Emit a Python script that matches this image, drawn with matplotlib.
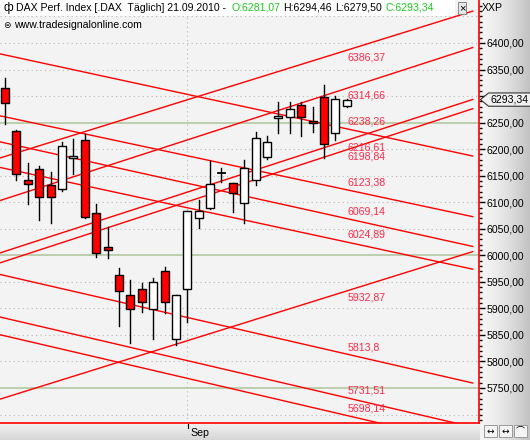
import matplotlib.pyplot as plt
import numpy as np
from matplotlib.patches import Rectangle, Polygon
from matplotlib.ticker import FixedLocator, FuncFormatter

plt.rcParams['font.family'] = ['Liberation Sans', 'DejaVu Sans']

# DAX daily candles, 31 bars up to 21.09.2010 (bar 16 = 1st of Sep)
opens = [6315.2, 6234.2, 6141.9, 6162.6, 6132.5, 6124.9, 6183.3, 6217.3, 6079.7, 6015.7,
         5962.9, 5925.2, 5936.5, 5898.9, 5970.4, 5842.3, 5936.5, 6070.3, 6089.1, 6155.1,
         6136.2, 6098.6, 6141.9, 6185.2, 6258.7, 6260.6, 6283.2, 6253.0, 6298.3, 6230.4, 6281.07]
highs = [6334.1, 6236.1, 6173.9, 6168.3, 6157.0, 6213.5, 6219.1, 6228.6, 6096.7, 6053.3,
         5976.1, 5953.5, 5947.8, 5957.3, 5978.0, 5925.2, 6083.5, 6104.2, 6177.7, 6164.5,
         6136.2, 6179.6, 6232.3, 6224.8, 6288.8, 6288.8, 6288.8, 6279.4, 6320.9, 6300.1, 6294.46]
lows = [6247.4, 6141.9, 6096.7, 6066.5, 6060.9, 6121.2, 6153.2, 6070.3, 5996.8, 5994.9,
        5866.8, 5834.8, 5893.2, 5842.3, 5891.3, 5831.0, 5874.4, 6051.5, 6087.3, 6138.1,
        6081.6, 6060.9, 6132.5, 6181.5, 6230.4, 6230.4, 6224.8, 6232.3, 6183.3, 6217.3, 6279.50]
closes = [6287.0, 6153.2, 6134.4, 6109.9, 6109.9, 6205.9, 6187.1, 6072.2, 6004.4, 6010.0,
          5932.8, 5898.9, 5912.0, 5949.7, 5912.0, 5925.2, 6083.5, 6083.5, 6134.4, 6155.1,
          6117.4, 6164.5, 6221.0, 6213.5, 6262.5, 6275.7, 6260.6, 6249.3, 6209.7, 6294.5, 6293.34]

# trend lines: value at the last bar (label) and slope in points per bar
line_values = [6386.37, 6314.66, 6238.26, 6216.61, 6198.84, 6123.38,
               6069.14, 6024.89, 5932.87, 5813.8, 5731.51, 5698.14]
line_labels = ['6386,37', '6314,66', '6238,26', '6216,61', '6198,84', '6123,38',
               '6069,14', '6024,89', '5932,87', '5813,8', '5731,51', '5698,14']
line_slopes = [6.67, 6.95, -4.64, 6.97, 7.0, -4.58,
               -4.75, -4.62, 6.7, -4.93, -5.0, -5.0]

month_label = 'Sep'
month_bar = 16
round_levels = [5750, 6000, 6250]

W, H = 530, 440
fig = plt.figure(figsize=(W / 100, H / 100), dpi=100)
fig.patch.set_facecolor('#ececec')

# background strips (right price scale and bottom date scale)
bg = fig.add_axes([0, 0, 1, 1])
bg.set_xlim(0, W)
bg.set_ylim(H, 0)
bg.axis('off')
t = np.linspace(0, 1, 50)
c0, c1 = np.array([0.96, 0.96, 0.96]), np.array([0.76, 0.76, 0.76])
grad_h = (c0[None, :] * (1 - t[:, None] ** 1.5) + c1[None, :] * t[:, None] ** 1.5)[None, :, :]
bg.imshow(grad_h, extent=[480, 530, 440, 0], aspect='auto')
t = np.linspace(0, 1, 20)
c0, c1 = np.array([0.95, 0.95, 0.95]), np.array([0.84, 0.84, 0.84])
grad_v = (c0[None, :] * (1 - t[:, None]) + c1[None, :] * t[:, None])[:, None, :]
bg.imshow(grad_v, extent=[0, 480, 440, 423], aspect='auto')

ax = fig.add_axes([0, 17 / H, 479 / W, 423 / H])
ax.set_facecolor('#f3f3f3')
n = len(opens)
x = np.arange(n)
ax.set_xlim(-0.44, 41.6)
ax.set_ylim(5684, 6481)

# grid
for lv in np.arange(5700, 6500, 50):
    if lv in round_levels:
        ax.axhline(lv, color='#b4c8a2', lw=1.2, zorder=1)
    else:
        ax.axhline(lv, color='#b8b8b8', lw=0.8, ls=(0, (1, 3)), zorder=1)
ax.axvline(month_bar, color='#b8b8b8', lw=0.8, ls=(0, (1, 3)), zorder=1)

# trend lines
xs = np.array([-0.6, 41.05])
last = n - 1
for v, s, lab in zip(line_values, line_slopes, line_labels):
    ax.plot(xs, v + s * (xs - last), color='#ff0000', lw=1, zorder=2)
    if s > 0:
        ax.annotate(lab, (last + 0.05, v), xytext=(0, -1.5), textcoords='offset points',
                    ha='left', va='top', color='#ff2848', fontsize=7.6, zorder=3)
    else:
        ax.annotate(lab, (last + 0.05, v), xytext=(0, 1.5), textcoords='offset points',
                    ha='left', va='bottom', color='#ff2848', fontsize=7.6, zorder=3)

# candles
bw = 0.7
for i in range(n):
    o, h, l, c = opens[i], highs[i], lows[i], closes[i]
    ax.plot([x[i], x[i]], [l, h], color='black', lw=1, zorder=4)
    col = '#ff0000' if c < o else 'white'
    if abs(c - o) < 0.5:
        ax.plot([x[i] - bw / 2, x[i] + bw / 2], [o, o], color='black', lw=1.3, zorder=5)
    else:
        ax.add_patch(Rectangle((x[i] - bw / 2, min(o, c)), bw, abs(c - o),
                               facecolor=col, edgecolor='black', lw=1, zorder=5))

lc = closes[-1]

# axes styling
for side in ['left', 'top']:
    ax.spines[side].set_visible(False)
for side in ['right', 'bottom']:
    ax.spines[side].set_color('#ff0000')
    ax.spines[side].set_linewidth(1.2)
ax.set_xticks([])
ax.yaxis.tick_right()
ax.yaxis.set_major_locator(FixedLocator(np.arange(5750, 6401, 50)))
ax.yaxis.set_minor_locator(FixedLocator(np.arange(5690, 6480, 10)))
# the label hidden behind the last-price tag is left out
ax.yaxis.set_major_formatter(FuncFormatter(
    lambda v, p: '' if abs(v - lc) < 15 else f'{v:.2f}'.replace('.', ',')))
ax.tick_params(axis='y', which='major', length=4, width=1, pad=1.5, labelsize=7.6,
               colors='black')
ax.tick_params(axis='y', which='minor', length=2, width=1, colors='black')

# last price marker
yt = ax.get_yaxis_transform()
tag = Polygon([[1.003, lc], [1.02, lc + 12.5], [1.115, lc + 12.5], [1.115, lc - 12.5],
               [1.02, lc - 12.5]], closed=True, transform=yt, facecolor='#f0f0f0',
              edgecolor='#333333', lw=0.8, clip_on=False, zorder=10)
ax.add_patch(tag)
ax.text(1.024, lc, f'{lc:.2f}'.replace('.', ','), transform=yt, ha='left', va='center',
        fontsize=7.6, color='black', clip_on=False, zorder=11)

# header
bg_head = fig.add_axes([0, 1 - 16 / H, 455 / W, 16 / H])
bg_head.set_facecolor('white')
bg_head.set_xticks([])
bg_head.set_yticks([])
for s in bg_head.spines.values():
    s.set_visible(False)


def ftxt(px, py, s, **kw):
    fig.text(px / W, 1 - py / H, s, va='center', zorder=20, **kw)


ftxt(3, 8, 'ф', fontsize=8.5, color='black')
ftxt(16, 8, 'DAX Perf. Index [.DAX  Täglich] 21.09.2010 - ', fontsize=7.6, color='black')
ftxt(231, 8, 'O:6281,07', fontsize=7.6, color='#1ec81e')
ftxt(283, 8, 'H:6294,46', fontsize=7.6, color='black')
ftxt(335, 8, 'L:6279,50', fontsize=7.6, color='black')
ftxt(386, 8, 'C:6293,34', fontsize=7.6, color='#1ec81e')
ftxt(3, 25, '⊜', fontsize=6.5, color='black')
ftxt(14, 25, 'www.tradesignalonline.com', fontsize=7.6, color='black')
ftxt(482, 8, 'XXP', fontsize=7.6, color='black')
ftxt(459, 8, '×', fontsize=8, color='black',
     bbox=dict(boxstyle='square,pad=0.05', facecolor='#e8e8e8', edgecolor='#777777', lw=0.6))

# date scale
ftxt(190, 433, month_label, fontsize=7.6, color='black')
bg.plot([187.5, 187.5], [424, 428], color='black', lw=0.8)

# bottom-right buttons
for bx, g in zip([484, 499, 514], ['↔', '↔', '⌒']):
    bg.add_patch(Rectangle((bx, 425), 13, 12, facecolor='#f4f4f4', edgecolor='#9a9a9a', lw=0.7))
    bg.text(bx + 6.5, 431, g, ha='center', va='center', fontsize=6.5, color='black',
            family=['DejaVu Sans', 'Noto Sans CJK JP'])

fig.savefig('out.png', dpi=100)
